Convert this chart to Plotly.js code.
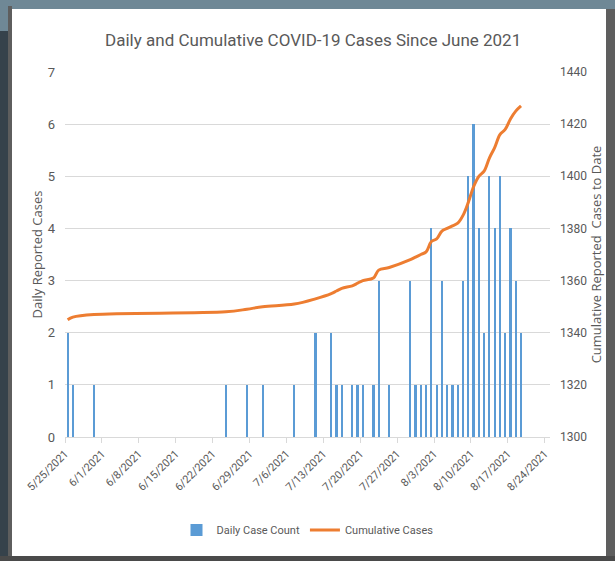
<!DOCTYPE html>
<html>
<head>
<meta charset="utf-8">
<script src="https://cdn.plot.ly/plotly-3.0.1.min.js"></script>
<style>
  body { margin: 0; background: #36424b; width: 615px; height: 561px; overflow: hidden; position: relative; }
  .blk { position: absolute; }
</style>
</head>
<body>
<div class="blk" style="left:0;top:0;width:615px;height:9px;background:#6f8896"></div>
<div class="blk" style="left:0;top:9px;width:12px;height:22px;background:#6f8896"></div>
<div class="blk" style="left:8px;top:6px;width:4px;height:555px;background:#5e5e5e"></div>
<div class="blk" style="left:606px;top:9px;width:9px;height:552px;background:#5e5e5e"></div>
<div class="blk" style="left:0;top:556px;width:615px;height:5px;background:#4a4a4a"></div>
<div id="chart" class="blk" style="left:12px;top:9px;width:594px;height:547px;background:#fff"></div>
<script>
// First reported day of the series
const startDate = '2021-05-25';

// Daily reported cases, one value per day starting 5/25/2021
const dailyCases = [
  2,1,0,0,0,1,0,0,0,0,
  0,0,0,0,0,0,0,0,0,0,
  0,0,0,0,0,0,0,0,0,0,
  1,0,0,0,1,0,0,1,0,0,
  0,0,0,1,0,0,0,2,0,0,
  2,1,1,0,1,1,1,0,1,3,
  0,1,0,0,0,3,1,1,1,4,
  1,3,1,1,1,3,5,6,4,2,
  5,4,5,2,4,3,2
];

// Cumulative reported cases to date, per day starting 5/25/2021
// (a point only on days with reports; null = no point that day)
const cumulativeCases = [
  1345,1346,null,null,null,1347,null,null,null,null,
  null,null,null,null,null,null,null,null,null,null,
  null,null,null,null,null,null,null,null,null,null,
  1348,null,null,null,1349,null,null,1350,null,null,
  null,null,null,1351,null,null,null,1353,null,null,
  1355,1356,1357,null,1358,1359,1360,null,1361,1364,
  null,1365,null,null,null,1368,1369,1370,1371,1375,
  1376,1379,1380,1381,1382,1385,1390,1396,1400,1402,
  1407,1411,1416,1418,1422,1425,1427
];

const titleText = 'Daily and Cumulative COVID-19 Cases Since June 2021';
const seriesNames = ['Daily Case Count', 'Cumulative Cases'];
const axisTitles = ['Daily Reported Cases', 'Cumulative Reported  Cases to Date'];

const DAY = 86400000;
function dayString(i) {
  const d = new Date(Date.parse(startDate + 'T00:00:00Z') + i * DAY);
  return d.toISOString().slice(0, 10);
}
const dates = dailyCases.map((_, i) => dayString(i));

const narrow = 'Roboto, sans-serif';
const gray = '#595959';

const traces = [
  {
    type: 'bar',
    name: seriesNames[0],
    x: dates,
    y: dailyCases,
    xperiod: DAY,
    xperiodalignment: 'middle',
    width: DAY * 0.42,
    marker: { color: '#5b9bd5', line: { width: 0 } },
    yaxis: 'y'
  },
  {
    type: 'scatter',
    mode: 'lines',
    name: seriesNames[1],
    x: dates,
    y: cumulativeCases,
    connectgaps: true,
    xperiod: DAY,
    xperiodalignment: 'middle',
    line: { color: '#ed7d31', width: 3, shape: 'spline', smoothing: 1 },
    yaxis: 'y2'
  }
];

const layout = {
  width: 594,
  height: 547,
  margin: { l: 53, r: 56, t: 63, b: 117 },
  paper_bgcolor: '#ffffff',
  plot_bgcolor: '#ffffff',
  showlegend: true,
  bargap: 0,
  title: {
    text: titleText,
    x: 0.507,
    xanchor: 'center',
    y: 0.943,
    yanchor: 'middle',
    font: { family: narrow, size: 17, color: gray }
  },
  xaxis: {
    type: 'date',
    range: ['2021-05-25', '2021-08-25'],
    tick0: startDate,
    dtick: 7 * DAY,
    tickformat: '%-m/%-d/%Y',
    tickangle: -45,
    ticks: 'outside',
    ticklen: 5,
    tickcolor: '#d9d9d9',
    showline: true,
    linecolor: '#d9d9d9',
    linewidth: 1,
    showgrid: false,
    zeroline: false,
    tickfont: { family: narrow, size: 11, color: gray }
  },
  yaxis: {
    range: [0, 7],
    dtick: 1,
    showgrid: true,
    gridcolor: '#d9d9d9',
    gridwidth: 1,
    zeroline: false,
    showline: false,
    ticks: '',
    ticklabelstandoff: 9,
    tickfont: { family: narrow, size: 13, color: gray },
    title: {
      text: axisTitles[0],
      standoff: 2,
      font: { family: '"Open Sans", sans-serif', size: 13, color: gray }
    }
  },
  yaxis2: {
    overlaying: 'y',
    side: 'right',
    range: [1300, 1440],
    dtick: 20,
    showgrid: false,
    zeroline: false,
    showline: false,
    ticks: '',
    ticklabelstandoff: 9,
    tickfont: { family: narrow, size: 12, color: gray },
    title: {
      text: axisTitles[1],
      standoff: 2,
      font: { family: '"Open Sans", sans-serif', size: 13, color: gray }
    }
  },
  legend: {
    orientation: 'h',
    x: 0.5,
    xanchor: 'center',
    y: -0.255,
    yanchor: 'middle',
    font: { family: narrow, size: 11, color: gray },
    bgcolor: 'rgba(0,0,0,0)'
  }
};

Plotly.newPlot('chart', traces, layout, { staticPlot: true, displayModeBar: false });
</script>
</body>
</html>
